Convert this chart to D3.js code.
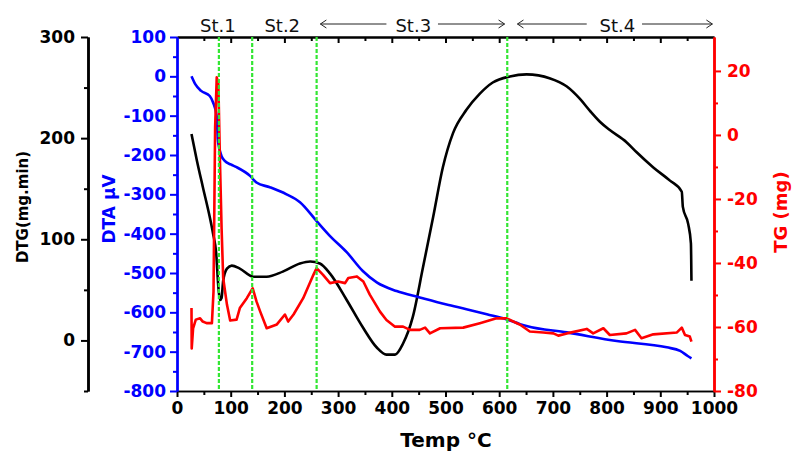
<!DOCTYPE html>
<html>
<head>
<meta charset="utf-8">
<script src="https://cdn.jsdelivr.net/npm/d3@7"></script>
<style>
  body { margin: 0; background: #fff; }
  svg { display: block; }
  text { font-family: "DejaVu Sans", sans-serif; }
</style>
</head>
<body>
<svg id="chart" width="795" height="454"></svg>
<script>
// DTA (blue, µV)
const dtaTemp = [27, 34, 45, 61, 67, 74, 76, 78, 83, 89, 100, 111, 136, 148, 173, 204, 229, 260, 285, 316, 346, 372, 409, 452, 502, 539, 577, 614, 639, 651, 726, 819, 912, 937, 951, 958];
const dtaVal = [0, -20, -37, -50, -66, -102, -160, -178, -203, -215, -224, -231, -253, -270, -282, -300, -320, -368, -406, -447, -495, -524, -546, -562, -580, -592, -605, -618, -630, -635, -651, -673, -689, -698, -711, -717];

// DTG (black, mg.min)
const dtgTemp = [27, 37, 48, 61, 67, 73, 77, 80, 83, 86, 93, 102, 117, 142, 167, 197, 229, 248, 266, 285, 316, 346, 372, 390, 406, 421, 439, 458, 477, 495, 514, 539, 564, 588, 620, 651, 695, 726, 750, 769, 788, 806, 837, 856, 887, 918, 940, 942, 952, 957, 958];
const dtgVal = [204, 178, 152, 122, 106, 86, 53, 40, 42, 59, 71, 74, 71, 63, 63, 68, 76, 78, 76, 66, 40, 13, -7, -14, -14, -3, 23, 72, 122, 171, 205, 228, 244, 255, 261, 263, 259, 251, 239, 227, 216, 208, 196, 186, 171, 158, 147, 132, 115, 96, 59];

// TG (red, mg)
const tgTemp = [27, 27.4, 30, 35, 43, 48, 55, 65, 68, 71, 74, 77, 80, 83, 86, 93, 99, 111, 117, 130, 141, 148, 155, 167, 186, 201, 207, 217, 235, 254, 260, 272, 285, 300, 313, 319, 335, 347, 359, 378, 390, 406, 421, 434, 452, 462, 471, 490, 533, 564, 595, 614, 639, 657, 682, 701, 710, 726, 763, 775, 794, 806, 837, 853, 865, 887, 931, 940, 946, 955, 958];
const tgVal = [-54.1, -66.7, -60.4, -57.7, -57.3, -58.3, -58.8, -58.8, -48.9, 2.3, 18, 16, -8.2, -29, -44.7, -53, -58, -57.7, -54.1, -51, -47.9, -52, -55.2, -60.4, -59.2, -56.1, -58.3, -56.1, -51, -43.7, -41.6, -43.7, -46.3, -45.8, -46.3, -44.7, -44.2, -45.8, -49.9, -55.2, -57.8, -59.9, -59.9, -60.9, -60.9, -60.2, -62, -60.4, -60.2, -58.8, -57.3, -57.3, -59.3, -61.4, -61.7, -62, -62.7, -62, -60.6, -62, -60.4, -62.5, -62, -60.9, -63.5, -62.3, -61.7, -60.2, -62.5, -63, -64.6];

// stage boundaries (°C) and stage labels
const stageLines = [78, 140, 260, 615];
const stageNames = ["St.1", "St.2", "St.3", "St.4"];
const stageCenters = [76, 196, 440, 820];
const stageArrows = [null, null, [267, 390, 486, 610], [634, 763, 866, 997]];

const xTicks = d3.range(0, 1001, 100);
const dtaTicks = d3.range(-800, 101, 100);
const dtgTicks = [0, 100, 200, 300];
const tgTicks = [-80, -60, -40, -20, 0, 20];

const plotLeft = 177, plotRight = 714, plotTop = 37, plotBottom = 391;
const svg = d3.select("#chart");

const x = d3.scaleLinear().domain([0, 1000]).range([plotLeft, plotRight]);
const yDTA = d3.scaleLinear().domain([-800, 100]).range([plotBottom, plotTop]);
const yDTG = d3.scaleLinear().domain([-50, 300]).range([plotBottom, plotTop]);
const yTG = d3.scaleLinear().domain([-80, 30.6]).range([plotBottom, plotTop]);

const plain = (d) => String(d); // hyphen minus, no thousands comma

function styleAxis(g, color, width) {
  g.select(".domain").attr("stroke", color).attr("stroke-width", width);
  g.selectAll(".tick line").attr("stroke", color).attr("stroke-width", 2);
  g.selectAll(".tick text")
    .attr("fill", color)
    .attr("font-weight", "bold")
    .attr("font-size", 17);
}

// minor ticks and top border
svg.append("g")
  .attr("transform", `translate(0,${plotBottom})`)
  .call(d3.axisBottom(x).tickValues(d3.range(50, 1000, 100)).tickSize(4).tickFormat("").tickSizeOuter(0))
  .call((g) => styleAxis(g, "#000", 1.5));
svg.append("g")
  .attr("transform", `translate(0,${plotTop})`)
  .call(d3.axisBottom(x).tickValues(d3.range(50, 1000, 100)).tickSize(4).tickFormat("").tickSizeOuter(0))
  .call((g) => styleAxis(g, "#000", 2));
svg.append("g")
  .attr("transform", `translate(0,${plotTop})`)
  .call(d3.axisBottom(x).tickValues(xTicks.slice(1, -1)).tickSize(6).tickFormat("").tickSizeOuter(0))
  .call((g) => styleAxis(g, "#000", 2));

// bottom axis
svg.append("g")
  .attr("transform", `translate(0,${plotBottom})`)
  .call(d3.axisBottom(x).tickValues(xTicks).tickFormat(plain).tickSize(6).tickPadding(5).tickSizeOuter(0))
  .call((g) => styleAxis(g, "#000", 1.5));

// DTA axis (blue)
svg.append("g")
  .attr("transform", `translate(${plotLeft},0)`)
  .call(d3.axisLeft(yDTA).tickValues(d3.range(-750, 100, 100)).tickSize(4).tickFormat("").tickSizeOuter(0))
  .call((g) => styleAxis(g, "#0000ff", 2));
svg.append("g")
  .attr("transform", `translate(${plotLeft},0)`)
  .call(d3.axisLeft(yDTA).tickValues(dtaTicks).tickFormat(plain).tickSize(7).tickPadding(4).tickSizeOuter(0))
  .call((g) => styleAxis(g, "#0000ff", 2.5));

// DTG axis (black)
svg.append("g")
  .attr("transform", "translate(88,0)")
  .call(d3.axisLeft(yDTG).tickValues([-50, 50, 150, 250]).tickSize(4).tickFormat("").tickSizeOuter(0))
  .call((g) => styleAxis(g, "#000", 2.5));
svg.append("g")
  .attr("transform", "translate(88,0)")
  .call(d3.axisLeft(yDTG).tickValues(dtgTicks).tickFormat(plain).tickSize(7).tickPadding(6).tickSizeOuter(0))
  .call((g) => styleAxis(g, "#000", 2.5));

// TG axis (red)
svg.append("g")
  .attr("transform", `translate(${plotRight},0)`)
  .call(d3.axisRight(yTG).tickValues([-70, -50, -30, -10, 10]).tickSize(4).tickFormat("").tickSizeOuter(0))
  .call((g) => styleAxis(g, "#ff0000", 2.5));
svg.append("g")
  .attr("transform", `translate(${plotRight},0)`)
  .call(d3.axisRight(yTG).tickValues(tgTicks).tickFormat(plain).tickSize(7).tickPadding(6).tickSizeOuter(0))
  .call((g) => styleAxis(g, "#ff0000", 2.5));

// curves
const series = [
  { t: dtgTemp, v: dtgVal, y: yDTG, color: "#000", curve: d3.curveMonotoneX },
  { t: dtaTemp, v: dtaVal, y: yDTA, color: "#0000ff", curve: d3.curveMonotoneX },
  { t: tgTemp, v: tgVal, y: yTG, color: "#ff0000", curve: d3.curveLinear },
];
series.forEach((s) => {
  const line = d3.line()
    .x((d, i) => x(s.t[i]))
    .y((d) => s.y(d))
    .curve(s.curve);
  svg.append("path")
    .attr("d", line(s.v))
    .attr("fill", "none")
    .attr("stroke", s.color)
    .attr("stroke-width", 2.6)
    .attr("stroke-linejoin", "round");
});

// stage boundaries
svg.append("g")
  .selectAll("line")
  .data(stageLines)
  .join("line")
  .attr("x1", (d) => x(d))
  .attr("x2", (d) => x(d))
  .attr("y1", plotTop)
  .attr("y2", plotBottom)
  .attr("stroke", "#33e633")
  .attr("stroke-width", 2.2)
  .attr("stroke-dasharray", "4,2");

// stage labels
svg.append("g")
  .selectAll("text")
  .data(stageNames)
  .join("text")
  .attr("x", (d, i) => x(stageCenters[i]))
  .attr("y", 32)
  .attr("text-anchor", "middle")
  .attr("font-size", 18)
  .attr("fill", "#111")
  .text((d) => d);

stageArrows.forEach((a) => {
  if (!a) return;
  const g = svg.append("g").attr("stroke", "#222").attr("stroke-width", 1).attr("fill", "none");
  const ay = 24;
  // left arrow
  g.append("line").attr("x1", x(a[0])).attr("x2", x(a[1])).attr("y1", ay).attr("y2", ay);
  g.append("path").attr("d", `M${x(a[0]) + 6},${ay - 4}L${x(a[0])},${ay}L${x(a[0]) + 6},${ay + 4}`);
  // right arrow
  g.append("line").attr("x1", x(a[2])).attr("x2", x(a[3])).attr("y1", ay).attr("y2", ay);
  g.append("path").attr("d", `M${x(a[3]) - 6},${ay - 4}L${x(a[3])},${ay}L${x(a[3]) - 6},${ay + 4}`);
});

// axis titles
svg.append("text")
  .attr("transform", "translate(28,207) rotate(-90)")
  .attr("text-anchor", "middle")
  .attr("font-weight", "bold")
  .attr("font-size", 15)
  .text("DTG(mg.min)");
svg.append("text")
  .attr("transform", "translate(115,209) rotate(-90)")
  .attr("text-anchor", "middle")
  .attr("font-weight", "bold")
  .attr("font-size", 17)
  .attr("fill", "#0000ff")
  .text("DTA µV");
svg.append("text")
  .attr("transform", "translate(787,212) rotate(-90)")
  .attr("text-anchor", "middle")
  .attr("font-weight", "bold")
  .attr("font-size", 18)
  .attr("fill", "#ff0000")
  .text("TG (mg)");
svg.append("text")
  .attr("x", 446)
  .attr("y", 447)
  .attr("text-anchor", "middle")
  .attr("font-weight", "bold")
  .attr("font-size", 20)
  .text("Temp °C");
</script>
</body>
</html>
